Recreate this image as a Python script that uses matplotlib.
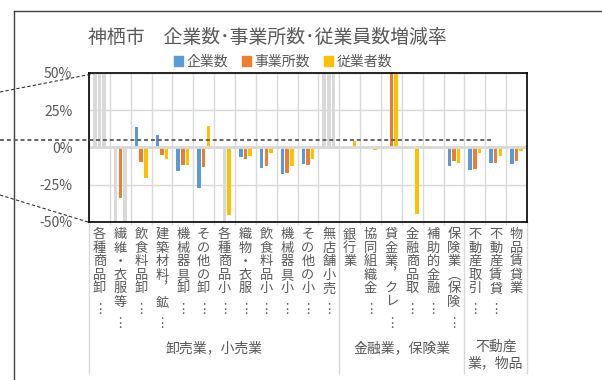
import matplotlib
matplotlib.use("Agg")
import matplotlib.pyplot as plt
import numpy as np
from matplotlib.lines import Line2D
from matplotlib.patches import Patch
from matplotlib.transforms import blended_transform_factory

plt.rcParams["font.family"] = ["Noto Sans CJK JP", "DejaVu Sans"]

title = "神栖市　企業数･事業所数･従業員数増減率"
series_names = ["企業数", "事業所数", "従業者数"]
cat_labels = [
    "各種商品卸…", "繊維・衣服等…", "飲食料品卸…", "建築材料，鉱…", "機械器具卸…",
    "その他の卸…", "各種商品小…", "織物・衣服…", "飲食料品小…", "機械器具小…",
    "その他の小…", "無店舗小売…", "銀行業", "協同組織金…", "貸金業，クレ…",
    "金融商品取…", "補助的金融…", "保険業（保険…", "不動産取引…", "不動産賃貸…",
    "物品賃貸業",
]
groups = ["卸売業，小売業", "金融業，保険業", "不動産\n業，物品"]
group_spans = [(0, 11), (12, 17), (18, 20)]

nan = np.nan
kigyo = [0.6, -0.6, 0.134, 0.08, -0.159, -0.273, nan, -0.064, -0.141, -0.18, -0.111,
         0.6, nan, nan, nan, nan, nan, -0.125, -0.155, -0.107, -0.114]
jigyosho = [0.6, -0.34, -0.10, -0.052, -0.12, -0.132, -0.6, -0.077, -0.123, -0.175, -0.116,
            0.6, nan, nan, 0.6, nan, nan, -0.091, -0.148, -0.107, -0.089]
jugyo = [0.6, -0.6, -0.209, -0.077, -0.116, 0.143, -0.455, -0.061, -0.036, -0.123, -0.079,
         0.6, 0.041, -0.02, 0.6, -0.448, nan, -0.102, -0.039, -0.061, -0.027]
# bars shown in grey in the original (category index, series index)
greyed = [(0, 0), (0, 1), (0, 2), (1, 0), (1, 2), (6, 1), (11, 0), (11, 1), (11, 2)]

yticks = [-0.5, -0.25, 0, 0.25, 0.5]
ytick_labels = ["-50%", "-25%", "0%", "25%", "50%"]

colors = ["#5B9BD5", "#ED7D31", "#FFC000"]
GREY = "#D9D9D9"
TXT = "#595959"
VERT = {"…": "︙", "，": "︐", "（": "︵"}

W, H = 602, 380


def fx(px):
    return px / W


def fy(py):
    return 1 - py / H


fig = plt.figure(figsize=(W / 100, H / 100), dpi=100)
ax = fig.add_axes([fx(89), fy(221.7), fx(527) - fx(89), fy(73) - fy(221.7)])

x = np.arange(len(cat_labels))
offsets = [-0.22, 0.0, 0.22]
width = 0.17
for s, vals in enumerate([kigyo, jigyosho, jugyo]):
    bc = [GREY if (i, s) in greyed else colors[s] for i in range(len(x))]
    ax.bar(x + offsets[s], np.array(vals, float), width, color=bc, zorder=2)

ax.set_xlim(-0.5, len(x) - 0.5)
ax.set_ylim(-0.5, 0.5)
ax.set_yticks(yticks)
ax.set_yticklabels(ytick_labels)
ax.set_xticks(np.arange(-0.5, len(x), 1))
ax.set_xticklabels([])
ax.grid(color=GREY, lw=1.0, zorder=0)
ax.set_axisbelow(True)
ax.axhline(0, color=GREY, lw=2.0, zorder=3)
ax.tick_params(axis="y", length=0, pad=12, labelsize=10, labelcolor=TXT)
ax.tick_params(axis="x", length=2, color=GREY, width=1)
for sp in ax.spines.values():
    sp.set_color("black")
    sp.set_linewidth(1.2)
    sp.set_zorder(4)

# category labels, stacked vertically char by char
trans = blended_transform_factory(ax.transData, fig.transFigure)
for i, lab in enumerate(cat_labels):
    py = 234.5
    for ch in lab:
        if ch == "…":
            py += 8
        ax.text(i, fy(py), VERT.get(ch, ch), transform=trans, ha="center", va="center",
                fontsize=9.5, color=TXT, clip_on=False)
        py += 13.6

# group labels and divider lines
for name, (a, b) in zip(groups, group_spans):
    ypos = 348 if "\n" not in name else 355
    ax.text((a + b) / 2, fy(ypos), name, transform=trans, ha="center", va="center",
            fontsize=10, color=TXT, linespacing=1.2)
for b in [-0.5, 11.5, 17.5, 20.5]:
    ax.add_line(Line2D([b, b], [fy(222), fy(373)], transform=trans, color=GREY,
                       lw=1, clip_on=False))

# title and legend
fig.text(fx(267), fy(37), title, ha="center", va="center", fontsize=13.6, color=TXT)
handles = [Patch(color=c) for c in colors]
leg = fig.legend(handles, series_names, loc="center", bbox_to_anchor=(fx(283), fy(62)),
                 ncol=3, frameon=False, fontsize=10, handlelength=0.65, handleheight=0.65,
                 handletextpad=0.25, columnspacing=1.0, borderpad=0)
for t in leg.get_texts():
    t.set_color(TXT)

# outer frame of the embedded chart and the dashed guide lines drawn over it
fig.add_artist(Line2D([fx(13.5), fx(13.5)], [fy(11), fy(380)], color="#404040", lw=1))
fig.add_artist(Line2D([fx(13.5), 1], [fy(11), fy(11)], color="#404040", lw=1))
fig.add_artist(Line2D([0, fx(97)], [fy(92), fy(73)], color="#333333", lw=0.8,
                      linestyle=(0, (3, 2)), zorder=10))
fig.add_artist(Line2D([0, fx(88)], [fy(195), fy(222)], color="#333333", lw=0.8,
                      linestyle=(0, (3, 2)), zorder=10))
fig.add_artist(Line2D([0, fx(491)], [fy(140), fy(140)], color="#595959", lw=1.3,
                      linestyle=(0, (2.2, 1.6)), zorder=10))

fig.savefig("out.png", dpi=100)
